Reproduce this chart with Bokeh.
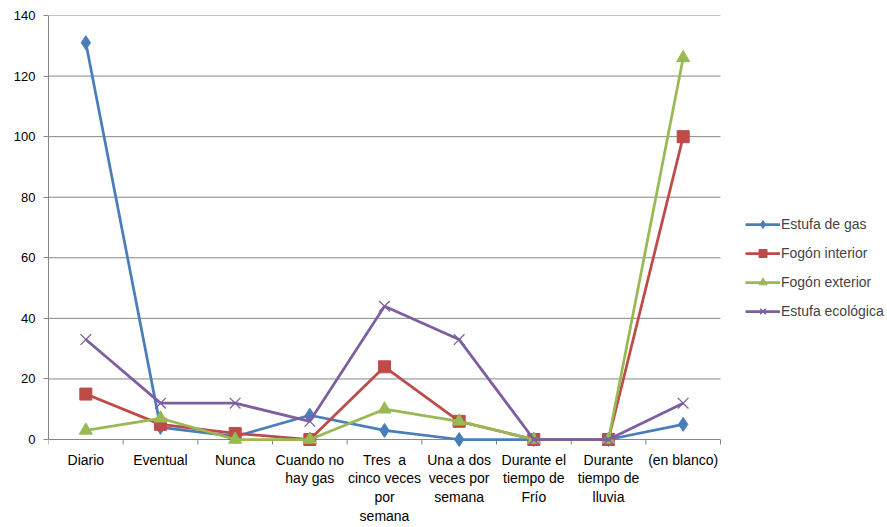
import numpy as np
from bokeh.plotting import figure
from bokeh.models import FixedTicker, Legend, LegendItem, Range1d
from bokeh.embed import file_html
from bokeh.resources import INLINE

categories = ["Diario", "Eventual", "Nunca", "Cuando no\nhay gas",
              "Tres\u00a0\u00a0a\ncinco veces\npor\nsemana", "Una a dos\nveces por\nsemana",
              "Durante el\ntiempo de\nFrío", "Durante\ntiempo de\nlluvia", "(en blanco)"]
estufa_gas = [131, 4, 1, 8, 3, 0, 0, 0, 5]
fogon_interior = [15, 5, 2, 0, 24, 6, 0, 0, 100]
fogon_exterior = [3, 7, 0, 0, 10, 6, 0, 0, 126]
estufa_ecologica = [33, 12, 12, 6, 44, 33, 0, 0, 12]
y_ticks = [0, 20, 40, 60, 80, 100, 120, 140]

FONT = "Liberation Sans"
GRID = "#868686"
n = len(categories)
xs = np.arange(n) + 0.5

# frame: x 48..885 px, 74.67 px per category; y 0..140 over 424 px
px_per_cat = 672 / n
frame_w = 885 - 48
x_end = frame_w / px_per_cat
px_per_unit = 424 / 140
y_start = -9 / px_per_unit          # room under the zero line for markers and ticks
tick_len = 5 / px_per_unit

p = figure(frame_width=frame_w, frame_height=433, output_backend="svg", toolbar_location=None,
           x_range=Range1d(0, x_end), y_range=Range1d(y_start, 140),
           min_border_left=48, min_border_right=0, min_border_top=15, min_border_bottom=0)
p.outline_line_color = None
p.background_fill_color = "white"
p.border_fill_color = "white"
p.xgrid.visible = False
p.ygrid.visible = False

# horizontal gridlines limited to the category span
gy = y_ticks[1:]
p.segment(x0=[0] * len(gy), x1=[n] * len(gy), y0=gy, y1=gy, line_color=GRID, line_width=1)
# category axis line at zero and boundary ticks
bx = list(range(n + 1))
p.segment(x0=[0], x1=[n], y0=[0], y1=[0], line_color=GRID, line_width=1)
p.segment(x0=bx, x1=bx, y0=[0] * len(bx), y1=[-tick_len] * len(bx), line_color=GRID, line_width=1)

# x axis: labels only
p.xaxis.ticker = FixedTicker(ticks=list(xs))
p.xaxis.major_label_overrides = {float(x): c for x, c in zip(xs, categories)}
p.xaxis.major_tick_out = 0
p.xaxis.major_tick_in = 0
p.xaxis.minor_tick_out = 0
p.xaxis.minor_tick_in = 0
p.xaxis.axis_line_color = None
p.xaxis.major_label_text_font = FONT
p.xaxis.major_label_text_font_size = "14px"
p.xaxis.major_label_text_color = "#000000"
p.xaxis.major_label_text_line_height = 1.18
p.xaxis.major_label_standoff = 3

p.yaxis.bounds = (0, 140)
p.yaxis.ticker = FixedTicker(ticks=y_ticks)
p.yaxis.major_tick_out = 5
p.yaxis.major_tick_in = 0
p.yaxis.minor_tick_out = 0
p.yaxis.minor_tick_in = 0
p.yaxis.major_tick_line_color = GRID
p.yaxis.axis_line_color = GRID
p.yaxis.major_label_text_font = FONT
p.yaxis.major_label_text_font_size = "13px"
p.yaxis.major_label_text_color = "#000000"
p.yaxis.major_label_standoff = 8

series = [
    ("Estufa de gas", estufa_gas, "#4A7EBB", "diamond", 14, 1),
    ("Fogón interior", fogon_interior, "#BE4B48", "square", 12, 1),
    ("Fogón exterior", fogon_exterior, "#98B954", "triangle", 13, 1),
    ("Estufa ecológica", estufa_ecologica, "#7D5FA0", "x", 15, 1.3),
]
items = []
for name, vals, col, mk, sz, lw in series:
    l = p.line(xs, vals, line_color=col, line_width=2.75)
    s = p.scatter(xs, vals, marker=mk, size=sz, fill_color=col, line_color=col, line_width=lw)
    items.append(LegendItem(label=name, renderers=[l, s]))

legend = Legend(items=items, location=(697, 127), padding=0, margin=0,
                glyph_width=35, glyph_height=20, spacing=9, label_standoff=1,
                label_text_font=FONT, label_text_font_size="14px",
                border_line_color=None, background_fill_alpha=0)
p.add_layout(legend, "center")

open("out.html", "w").write(file_html(p, INLINE))
